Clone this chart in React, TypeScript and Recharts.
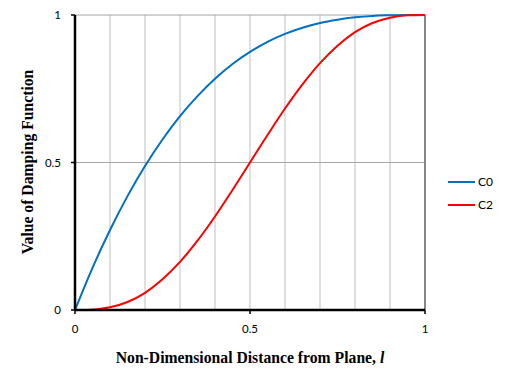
import React from "react";
import {
  LineChart,
  Line,
  XAxis,
  YAxis,
  ReferenceLine,
  Label,
} from "recharts";

const xValues = [
  0, 0.05, 0.1, 0.15, 0.2, 0.25, 0.3, 0.35, 0.4, 0.45, 0.5, 0.55, 0.6, 0.65,
  0.7, 0.75, 0.8, 0.85, 0.9, 0.95, 1,
];
const c0Values = [
  0, 0.143, 0.271, 0.386, 0.488, 0.578, 0.657, 0.725, 0.784, 0.834, 0.875,
  0.909, 0.936, 0.957, 0.973, 0.984, 0.992, 0.997, 0.999, 1, 1,
];
const c2Values = [
  0, 0.001, 0.009, 0.027, 0.058, 0.104, 0.163, 0.235, 0.317, 0.407, 0.5,
  0.593, 0.683, 0.765, 0.837, 0.896, 0.942, 0.973, 0.991, 0.999, 1,
];
const seriesNames = ["C0", "C2"];
const seriesColors = ["#0070c0", "#ff0000"];
const xTicks = [0, 0.5, 1];
const yTicks = [0, 0.5, 1];
const xGrid = [0.1, 0.2, 0.3, 0.4, 0.5, 0.6, 0.7, 0.8, 0.9];
const yGrid = [0.5, 1];

const data = xValues.map((x, i) => ({ x, C0: c0Values[i], C2: c2Values[i] }));

const tickStyle = { fill: "#000", fontSize: 11.5, fontFamily: "Lato, 'Open Sans', sans-serif" };
const titleFont = "'Liberation Serif', 'DejaVu Serif', serif";

export default function App() {
  return (
    <div style={{ position: "absolute", left: 0, top: 0, width: 507, height: 386, background: "#fff" }}>
      <LineChart
        width={507}
        height={386}
        data={data}
        margin={{ top: 15, right: 82, bottom: 46, left: 45 }}
      >
        {xGrid.map((v) => (
          <ReferenceLine key={"vx" + v} x={v} stroke="#bfbfbf" strokeWidth={1} />
        ))}
        {yGrid.map((v) => (
          <ReferenceLine key={"hy" + v} y={v} stroke="#a6a6a6" strokeWidth={1} />
        ))}
        <ReferenceLine x={1} stroke="#868686" strokeWidth={2} />
        <XAxis
          dataKey="x"
          type="number"
          domain={[0, 1]}
          ticks={xTicks}
          height={30}
          axisLine={{ stroke: "#000", strokeWidth: 2.5 }}
          tickLine={{ stroke: "#000", strokeWidth: 1.5 }}
          tickSize={4}
          tickMargin={11}
          tick={tickStyle}
          tickFormatter={(v: number) => String(v)}
        >
          <Label
            content={() => (
              <text
                x={250}
                y={363}
                textAnchor="middle"
                fontFamily={titleFont}
                fontWeight="bold"
                fontSize={15.7}
                fill="#000"
              >
                Non-Dimensional Distance from Plane, <tspan fontStyle="italic">l</tspan>
              </text>
            )}
          />
        </XAxis>
        <YAxis
          type="number"
          domain={[0, 1]}
          ticks={yTicks}
          width={30}
          axisLine={{ stroke: "#000", strokeWidth: 2.5 }}
          tickLine={{ stroke: "#000", strokeWidth: 1.5 }}
          tickSize={4}
          tickMargin={10}
          tick={tickStyle}
          tickFormatter={(v: number) => String(v)}
        >
          <Label
            content={() => (
              <text
                x={33}
                y={162}
                transform="rotate(-90 33 162)"
                textAnchor="middle"
                fontFamily={titleFont}
                fontWeight="bold"
                fontSize={15.7}
                fill="#000"
              >
                Value of Damping Function
              </text>
            )}
          />
        </YAxis>
        {seriesNames.map((name, i) => (
          <Line
            key={name}
            type="monotone"
            dataKey={name}
            stroke={seriesColors[i]}
            strokeWidth={2}
            dot={false}
            isAnimationActive={false}
          />
        ))}
      </LineChart>
      <div
        style={{
          position: "absolute",
          left: 448,
          top: 170,
          fontFamily: "Lato, sans-serif",
          fontSize: 12,
          color: "#000",
        }}
      >
        {seriesNames.map((name, i) => (
          <div key={name} style={{ display: "flex", alignItems: "center", height: 23 }}>
            <span
              style={{
                display: "inline-block",
                width: 27,
                height: 2,
                background: seriesColors[i],
                marginRight: 3,
              }}
            />
            {name}
          </div>
        ))}
      </div>
    </div>
  );
}
